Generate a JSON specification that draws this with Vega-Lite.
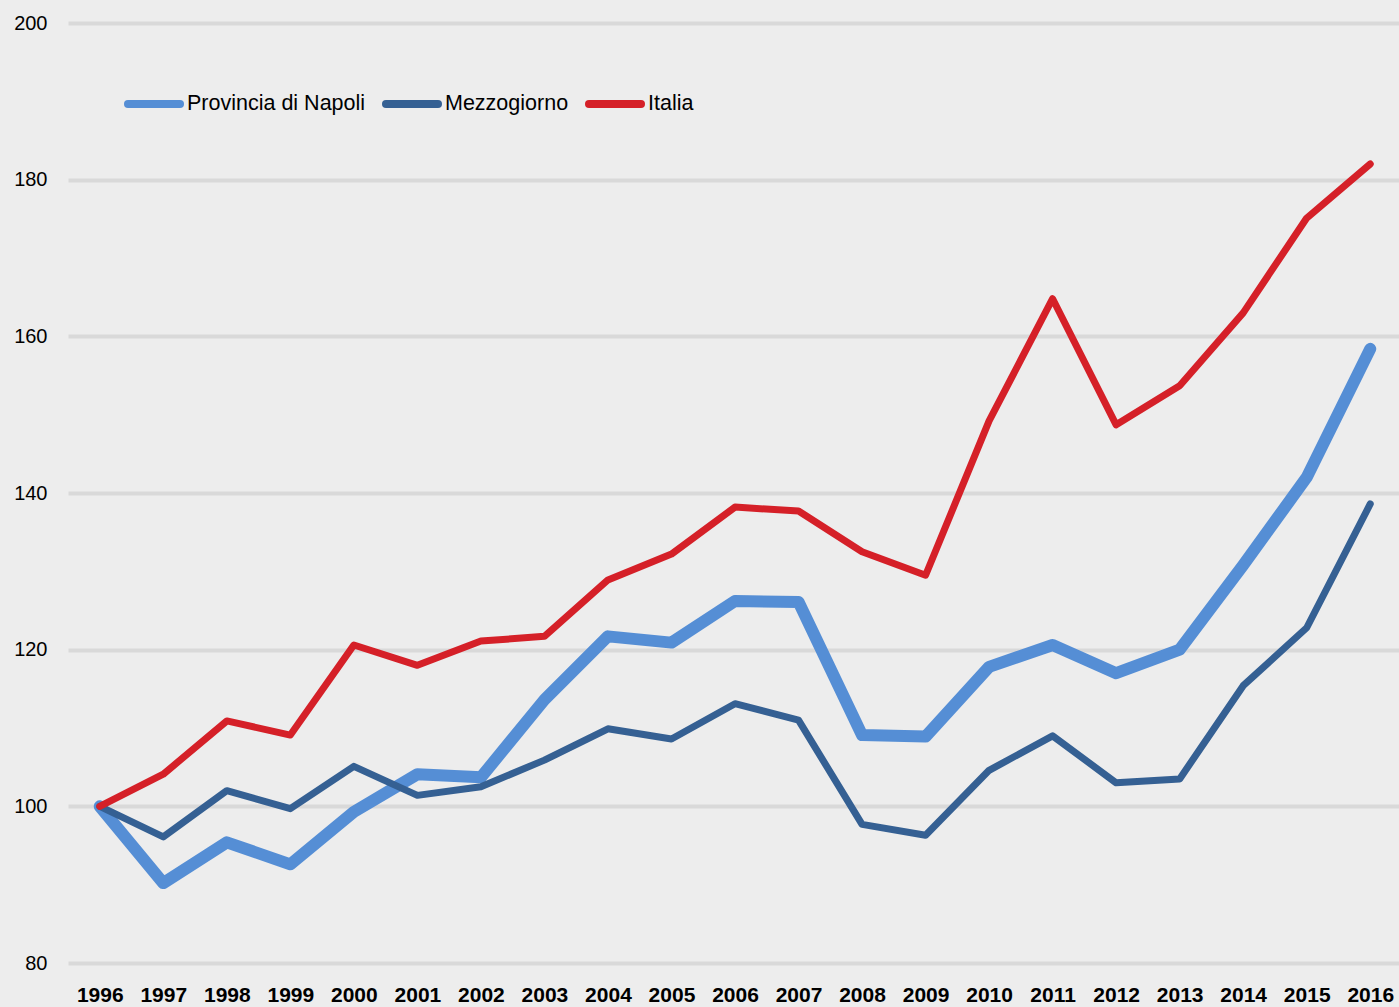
{
  "$schema": "https://vega.github.io/schema/vega-lite/v6.json",
  "width": 1334,
  "height": 940,
  "autosize": {"type": "none"},
  "padding": {"left": 68, "top": 23, "right": 0, "bottom": 44},
  "background": "#EDEDED",
  "config": {
    "view": {"stroke": null, "fill": "#EDEDED"},
    "font": "Liberation Sans"
  },
  "datasets": {
    "series": [
      {"anno": "1996", "serie": "Provincia di Napoli", "valore": 100},
      {"anno": "1997", "serie": "Provincia di Napoli", "valore": 90.2},
      {"anno": "1998", "serie": "Provincia di Napoli", "valore": 95.4},
      {"anno": "1999", "serie": "Provincia di Napoli", "valore": 92.6},
      {"anno": "2000", "serie": "Provincia di Napoli", "valore": 99.3},
      {"anno": "2001", "serie": "Provincia di Napoli", "valore": 104.1},
      {"anno": "2002", "serie": "Provincia di Napoli", "valore": 103.7},
      {"anno": "2003", "serie": "Provincia di Napoli", "valore": 113.6},
      {"anno": "2004", "serie": "Provincia di Napoli", "valore": 121.7},
      {"anno": "2005", "serie": "Provincia di Napoli", "valore": 120.9},
      {"anno": "2006", "serie": "Provincia di Napoli", "valore": 126.2},
      {"anno": "2007", "serie": "Provincia di Napoli", "valore": 126.1},
      {"anno": "2008", "serie": "Provincia di Napoli", "valore": 109.1},
      {"anno": "2009", "serie": "Provincia di Napoli", "valore": 108.9},
      {"anno": "2010", "serie": "Provincia di Napoli", "valore": 117.8},
      {"anno": "2011", "serie": "Provincia di Napoli", "valore": 120.6},
      {"anno": "2012", "serie": "Provincia di Napoli", "valore": 117.0},
      {"anno": "2013", "serie": "Provincia di Napoli", "valore": 120.0},
      {"anno": "2014", "serie": "Provincia di Napoli", "valore": 130.8},
      {"anno": "2015", "serie": "Provincia di Napoli", "valore": 142.0},
      {"anno": "2016", "serie": "Provincia di Napoli", "valore": 158.4},
      {"anno": "1996", "serie": "Mezzogiorno", "valore": 100},
      {"anno": "1997", "serie": "Mezzogiorno", "valore": 96.1},
      {"anno": "1998", "serie": "Mezzogiorno", "valore": 102.0},
      {"anno": "1999", "serie": "Mezzogiorno", "valore": 99.7},
      {"anno": "2000", "serie": "Mezzogiorno", "valore": 105.1},
      {"anno": "2001", "serie": "Mezzogiorno", "valore": 101.4},
      {"anno": "2002", "serie": "Mezzogiorno", "valore": 102.5},
      {"anno": "2003", "serie": "Mezzogiorno", "valore": 105.9},
      {"anno": "2004", "serie": "Mezzogiorno", "valore": 109.9},
      {"anno": "2005", "serie": "Mezzogiorno", "valore": 108.6},
      {"anno": "2006", "serie": "Mezzogiorno", "valore": 113.1},
      {"anno": "2007", "serie": "Mezzogiorno", "valore": 111.0},
      {"anno": "2008", "serie": "Mezzogiorno", "valore": 97.7},
      {"anno": "2009", "serie": "Mezzogiorno", "valore": 96.3},
      {"anno": "2010", "serie": "Mezzogiorno", "valore": 104.6},
      {"anno": "2011", "serie": "Mezzogiorno", "valore": 109.0},
      {"anno": "2012", "serie": "Mezzogiorno", "valore": 103.0},
      {"anno": "2013", "serie": "Mezzogiorno", "valore": 103.5},
      {"anno": "2014", "serie": "Mezzogiorno", "valore": 115.4},
      {"anno": "2015", "serie": "Mezzogiorno", "valore": 122.8},
      {"anno": "2016", "serie": "Mezzogiorno", "valore": 138.6},
      {"anno": "1996", "serie": "Italia", "valore": 100},
      {"anno": "1997", "serie": "Italia", "valore": 104.1},
      {"anno": "1998", "serie": "Italia", "valore": 110.9},
      {"anno": "1999", "serie": "Italia", "valore": 109.1},
      {"anno": "2000", "serie": "Italia", "valore": 120.6},
      {"anno": "2001", "serie": "Italia", "valore": 118.0},
      {"anno": "2002", "serie": "Italia", "valore": 121.1},
      {"anno": "2003", "serie": "Italia", "valore": 121.7},
      {"anno": "2004", "serie": "Italia", "valore": 128.9},
      {"anno": "2005", "serie": "Italia", "valore": 132.2},
      {"anno": "2006", "serie": "Italia", "valore": 138.2},
      {"anno": "2007", "serie": "Italia", "valore": 137.7},
      {"anno": "2008", "serie": "Italia", "valore": 132.5},
      {"anno": "2009", "serie": "Italia", "valore": 129.5},
      {"anno": "2010", "serie": "Italia", "valore": 149.2},
      {"anno": "2011", "serie": "Italia", "valore": 164.8},
      {"anno": "2012", "serie": "Italia", "valore": 148.7},
      {"anno": "2013", "serie": "Italia", "valore": 153.7},
      {"anno": "2014", "serie": "Italia", "valore": 163.0},
      {"anno": "2015", "serie": "Italia", "valore": 175.1},
      {"anno": "2016", "serie": "Italia", "valore": 182.0}
    ]
  },
  "data": {"name": "series"},
  "mark": {"type": "line", "strokeCap": "round", "strokeJoin": "round"},
  "encoding": {
    "x": {
      "field": "anno",
      "type": "ordinal",
      "sort": null,
      "scale": {"padding": 0.5},
      "axis": {
        "title": null,
        "labelAngle": 0,
        "ticks": false,
        "domain": false,
        "grid": false,
        "labelFont": "Liberation Sans",
        "labelFontSize": 21,
        "labelFontWeight": "bold",
        "labelColor": "#000000",
        "labelPadding": 21
      }
    },
    "y": {
      "field": "valore",
      "type": "quantitative",
      "scale": {"domain": [80, 200], "nice": false, "zero": false},
      "axis": {
        "title": null,
        "values": [80, 100, 120, 140, 160, 180, 200],
        "ticks": false,
        "domain": false,
        "grid": true,
        "gridColor": "#D9D9D9",
        "gridWidth": 4,
        "labelFont": "Liberation Sans",
        "labelFontSize": 20,
        "labelColor": "#000000",
        "labelPadding": 21
      }
    },
    "color": {
      "field": "serie",
      "type": "nominal",
      "sort": null,
      "scale": {
        "domain": ["Provincia di Napoli", "Mezzogiorno", "Italia"],
        "range": ["#558ED5", "#356093", "#D52028"]
      },
      "legend": {
        "title": null,
        "orient": "none",
        "legendX": 56,
        "legendY": 51,
        "direction": "horizontal",
        "symbolType": "stroke",
        "symbolSize": 2704,
        "symbolStrokeWidth": 8,
        "labelFont": "Liberation Sans",
        "labelFontSize": 21.5,
        "labelColor": "#000000",
        "labelOffset": 3,
        "columnPadding": 4,
        "labelLimit": 400,
        "encode": {"symbols": {"update": {"strokeCap": {"value": "round"}}}}
      }
    },
    "strokeWidth": {
      "condition": {"test": "datum.serie === 'Provincia di Napoli'", "value": 12},
      "value": 7
    }
  }
}
